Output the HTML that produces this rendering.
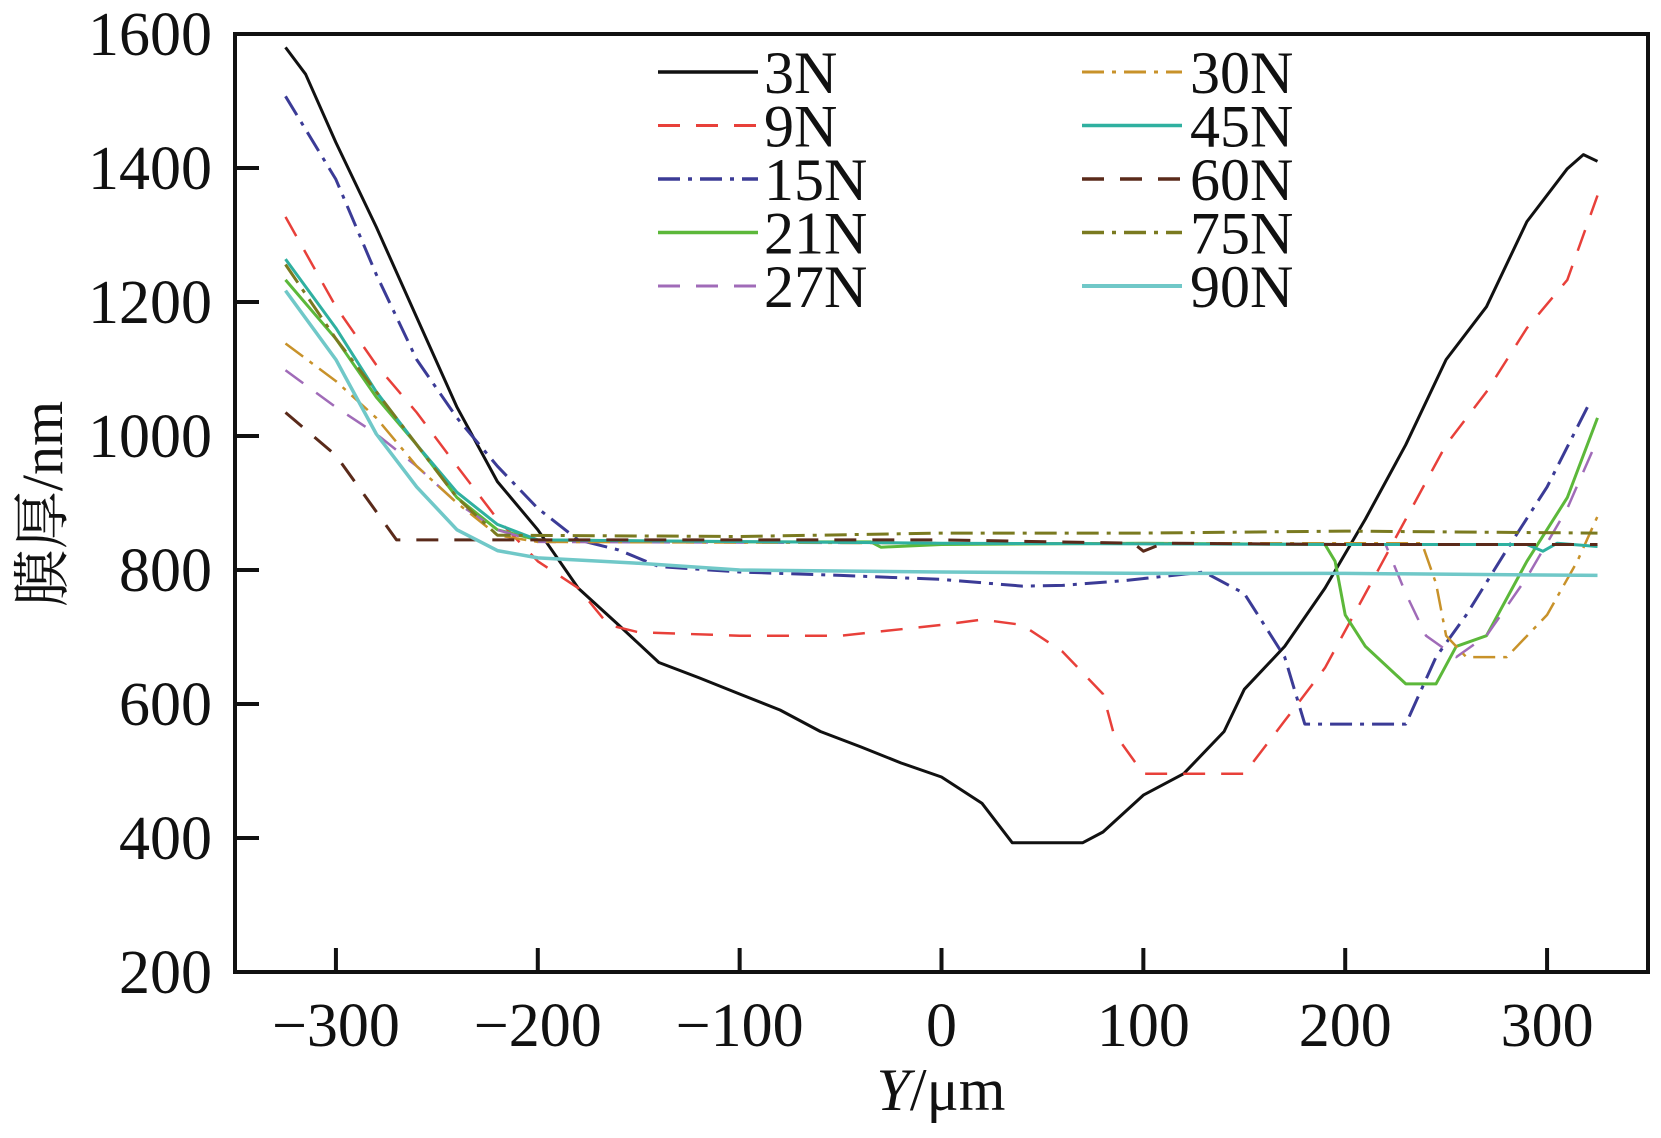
<!DOCTYPE html>
<html><head><meta charset="utf-8"><style>
body{margin:0;background:#fff}
svg text{font-family:"Liberation Serif","Noto Serif CJK SC",serif;fill:#111}
</style></head><body>
<svg id="chart" width="1661" height="1133" viewBox="0 0 1661 1133" xmlns="http://www.w3.org/2000/svg">
<g id="axes"></g><g id="series"></g><g id="legend"></g>
<text x="941" y="1110" font-size="60" text-anchor="middle"><tspan font-style="italic">Y</tspan>/μm</text>
<text transform="translate(62,504) rotate(-90)" font-size="58" text-anchor="middle">膜厚/nm</text>
</svg>
<script>
const xTicks=[-300,-200,-100,0,100,200,300];
const yTicks=[200,400,600,800,1000,1200,1400,1600];
const names=["3N","9N","15N","21N","27N","30N","45N","60N","75N","90N"];
const s3N=[[-325,1580],[-315,1540],[-300,1438],[-280,1312],[-260,1177],[-240,1043],[-220,932],[-200,860],[-180,773],[-160,718],[-140,662],[-120,639],[-100,615],[-80,591],[-60,559],[-40,536],[-20,512],[0,491],[20,452],[35,393],[70,393],[80,409],[100,464],[120,496],[140,559],[150,622],[170,686],[190,773],[210,876],[230,987],[250,1114],[270,1193],[290,1320],[310,1399],[318,1420],[325,1410]];
const s9N=[[-325,1327],[-300,1193],[-280,1106],[-260,1035],[-240,955],[-220,876],[-200,813],[-180,773],[-165,718],[-150,707],[-100,702],[-50,702],[0,718],[20,726],[40,718],[60,678],[80,615],[85,559],[100,496],[150,496],[170,575],[190,654],[210,765],[230,876],[250,987],[270,1066],[290,1161],[310,1233],[325,1359]];
const s15N=[[-325,1507],[-300,1383],[-280,1241],[-260,1114],[-240,1027],[-220,955],[-200,892],[-180,845],[-160,830],[-140,805],[-100,797],[-50,792],[0,786],[40,776],[60,777],[90,784],[130,797],[150,765],[170,670],[180,570],[230,570],[245,670],[260,733],[280,830],[300,924],[320,1043]];
const s21N=[[-325,1233],[-300,1145],[-280,1058],[-260,987],[-240,908],[-220,860],[-200,845],[-100,842],[-35,842],[-30,834],[0,838],[100,840],[190,838],[195,813],[200,733],[210,686],[230,630],[245,630],[255,686],[270,702],[290,813],[310,908],[325,1027]];
const s27N=[[-325,1098],[-300,1043],[-280,1003],[-260,955],[-240,900],[-220,860],[-200,842],[0,840],[220,838],[230,765],[240,702],[255,670],[270,702],[290,789],[310,892],[325,995]];
const s30N=[[-325,1138],[-300,1082],[-280,1027],[-260,955],[-240,900],[-220,852],[-200,842],[0,840],[238,840],[245,780],[250,702],[260,670],[280,670],[300,733],[315,813],[325,880]];
const s45N=[[-325,1264],[-300,1161],[-280,1066],[-260,987],[-240,916],[-220,868],[-200,845],[0,840],[200,838],[290,838],[298,828],[305,840],[325,835]];
const s60N=[[-325,1035],[-300,971],[-285,908],[-270,845],[0,845],[95,840],[100,828],[110,840],[200,838],[325,838]];
const s75N=[[-325,1256],[-300,1145],[-260,987],[-240,908],[-220,852],[-100,850],[0,855],[100,855],[200,858],[325,855]];
const s90N=[[-325,1217],[-300,1114],[-280,1003],[-260,924],[-240,860],[-220,829],[-200,818],[-150,810],[-100,800],[0,797],[100,795],[200,795],[325,792]];
const allSeries=[s3N,s9N,s15N,s21N,s27N,s30N,s45N,s60N,s75N,s90N];
const colors=["#111","#e8403a","#3b3b96","#5cb83a","#a06bb8","#c8922a","#2fb0a0","#5a2a1a","#7a7a20","#70c8c8"];
const dashes=["","22,16","22,8,4,8","","22,16","22,8,4,8","","22,16","22,8,4,8",""];
const widths=[3,2.5,3,3,2.5,2.5,3,3,3,3.5];
const L=235,R=1648,T=34,B=972;
const sx=v=>L+(v+350)/700*(R-L);
const sy=v=>B-(v-200)/1400*(B-T);
const NS="http://www.w3.org/2000/svg";
function mk(t,a,p){const e=document.createElementNS(NS,t);for(const k in a)e.setAttribute(k,a[k]);p.appendChild(e);return e;}
const ax=document.getElementById('axes');
const fr=mk('rect',{x:L,y:T,width:R-L,height:B-T,fill:'none',stroke:'#111','stroke-width':4},ax);


xTicks.forEach(v=>{
 const l=mk('line',{x1:sx(v),x2:sx(v),y1:B,y2:B-24,stroke:'#111','stroke-width':4},ax);
 
 
 const t=mk('text',{x:sx(v),y:1046,'font-size':62,'text-anchor':'middle'},ax);
 t.textContent=v<0?'\u2212'+(-v):String(v);
 
 
});
yTicks.forEach(v=>{
 const l=mk('line',{x1:L,x2:L+24,y1:sy(v),y2:sy(v),stroke:'#111','stroke-width':4},ax);
 
 
 const t=mk('text',{x:212,y:sy(v)+21,'font-size':62,'text-anchor':'end'},ax);
 t.textContent=String(v);
 
 
});
const sg=document.getElementById('series');
allSeries.forEach((d,i)=>{
 const p=mk('polyline',{points:d.map(q=>sx(q[0]).toFixed(1)+','+sy(q[1]).toFixed(1)).join(' '),fill:'none',stroke:colors[i],'stroke-width':widths[i],'stroke-dasharray':dashes[i],'stroke-linejoin':'round'},sg);
 
 
});
const lg=document.getElementById('legend');
names.forEach((n,i)=>{
 const col=Math.floor(i/5),row=i%5;
 const x0=col?1082:658,tx=col?1190:764,y=72+row*53.5;
 const l=mk('line',{x1:x0,x2:x0+100,y1:y,y2:y,stroke:colors[i],'stroke-width':widths[i]+0.5,'stroke-dasharray':dashes[i]},lg);
 
 
 const t=mk('text',{x:tx,y:y+21,'font-size':60},lg);
 t.textContent=n;
 
 
});
</script>
</body></html>
